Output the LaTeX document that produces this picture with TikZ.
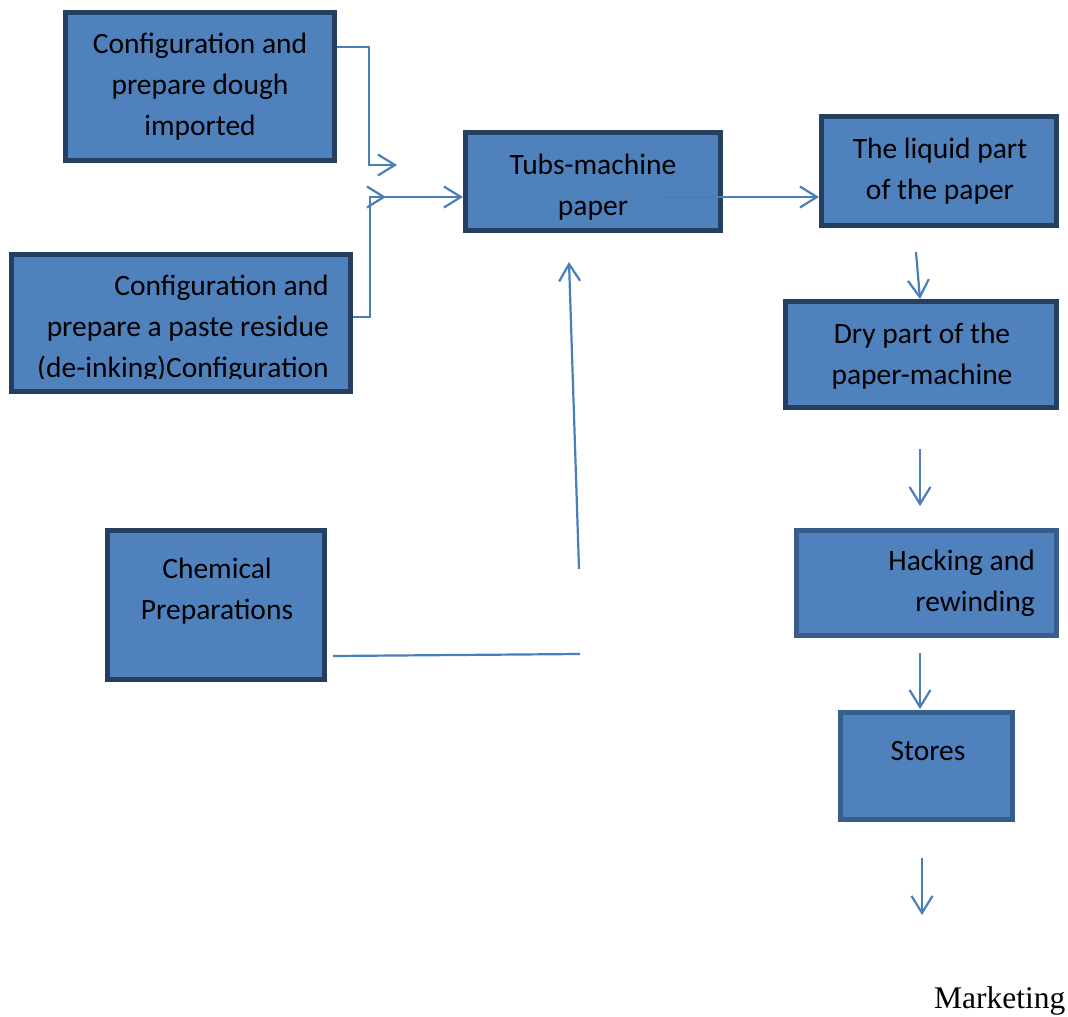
\documentclass[tikz,border=0pt]{standalone}
\usepackage{fontspec}
\setmainfont{Carlito}
\newfontfamily\mkfont{Liberation Serif}
\usetikzlibrary{arrows.meta}
\definecolor{boxfill}{HTML}{4F81BD}
\definecolor{boxline}{HTML}{243F60}
\definecolor{boxlineb}{HTML}{385D8A}
\definecolor{conn}{HTML}{4A7EBB}
\newcommand\boxfont{\fontsize{29.5}{41}\selectfont}
\tikzset{
  flowbox/.style={draw=boxline, fill=boxfill, line width=5pt, rectangle, inner sep=0pt},
  flowboxb/.style={flowbox, draw=boxlineb},
  txt/.style={inner sep=0pt, font=\boxfont, text=black},
  link/.style={draw=conn, line width=2.2pt},
  arr/.style={link, -{Straight Barb[length=17pt, width=21pt]}},
}
\begin{document}
\begin{tikzpicture}[x=1pt, y=-1pt]
\path[fill=white, use as bounding box] (0,0) rectangle (1068,1017);

% boxes (outer edges given in comments)
% A: (63,10)-(337,163)
\node[flowbox, minimum width=269pt, minimum height=148pt] (A) at (200,86.5) {};
% B: (9,252)-(353,394)
\node[flowbox, minimum width=339pt, minimum height=137pt] (B) at (181,323) {};
% Tubs: (463,130)-(723,233)
\node[flowbox, minimum width=255pt, minimum height=98pt] (Tubs) at (593,181.5) {};
% Liquid: (819,114)-(1059,228)
\node[flowbox, minimum width=235pt, minimum height=109pt] (Liquid) at (939,171) {};
% Dry: (783,299)-(1059,410)
\node[flowbox, minimum width=271pt, minimum height=106pt] (Dry) at (921,354.5) {};
% Hacking: (794,528)-(1059,638)
\node[flowboxb, minimum width=260pt, minimum height=105pt] (Hack) at (926.5,583) {};
% Stores: (838,710)-(1015,822)
\node[flowboxb, minimum width=172pt, minimum height=107pt] (Stores) at (926.5,766) {};
% Chemical: (105,528)-(327,682)
\node[flowbox, minimum width=217pt, minimum height=149pt] (Chem) at (216,605) {};

% texts
\node[txt, anchor=base] (tA) at (200,53) {\begin{tabular}[t]{@{}c@{}}Configuration and\\prepare dough\\imported\end{tabular}};
\begin{scope}
\clip (12,255) rectangle (350,378);
\node[txt, anchor=base east] (tB) at (329,295) {\begin{tabular}[t]{@{}r@{}}Configuration and\\prepare a paste residue\\(de-inking)Configuration\end{tabular}};
\end{scope}
\node[txt, anchor=base] (tT) at (593,174) {\begin{tabular}[t]{@{}c@{}}Tubs-machine\\paper\end{tabular}};
\node[txt, anchor=base] (tL) at (940,158) {\begin{tabular}[t]{@{}c@{}}The liquid part\\of the paper\end{tabular}};
\node[txt, anchor=base] (tD) at (922,343) {\begin{tabular}[t]{@{}c@{}}Dry part of the\\paper-machine\end{tabular}};
\node[txt, anchor=base east] (tH) at (1035,570) {\begin{tabular}[t]{@{}r@{}}Hacking and\\rewinding\end{tabular}};
\node[txt, anchor=base] (tS) at (928,760) {Stores};
\node[txt, anchor=base] (tC) at (217,578) {\begin{tabular}[t]{@{}c@{}}Chemical\\Preparations\end{tabular}};
\node[inner sep=0pt, anchor=base west, font=\mkfont\fontsize{31.5}{36}\selectfont] (mk) at (934,1008) {Marketing};

% connector coordinates
\coordinate (j1) at (397,165);
\coordinate (j2) at (386,197);
\coordinate (j3) at (370,197);
\coordinate (t0) at (662,197);
\coordinate (l0) at (916,252);
\coordinate (d0) at (920,449);
\coordinate (d1) at (920,506);
\coordinate (h0) at (920,653);
\coordinate (h1) at (920,709);
\coordinate (s0) at (922,858);
\coordinate (s1) at (922,915);
\coordinate (c0) at (333,656);
\coordinate (c1) at (580,654);
\coordinate (c2) at (579,569);
\coordinate (c3) at (569,262);

% connectors
\draw[arr] ([yshift=39.5pt]A.east) -- ++(32,0) |- (j1);
\draw[arr] ([yshift=6pt]B.east) -- ++(17,0) |- (j2);
\draw[arr] (j3) -- ([yshift=-15.5pt]Tubs.west);
\draw[arr] (t0) -- ([yshift=-26pt]Liquid.west);
\draw[arr] (l0) -- ([xshift=-1pt]Dry.north);
\draw[arr] (d0) -- (d1);
\draw[arr] (h0) -- (h1);
\draw[arr] (s0) -- (s1);
\draw[link] (c0) -- (c1);
\draw[arr] (c2) -- (c3);
\end{tikzpicture}
\end{document}
